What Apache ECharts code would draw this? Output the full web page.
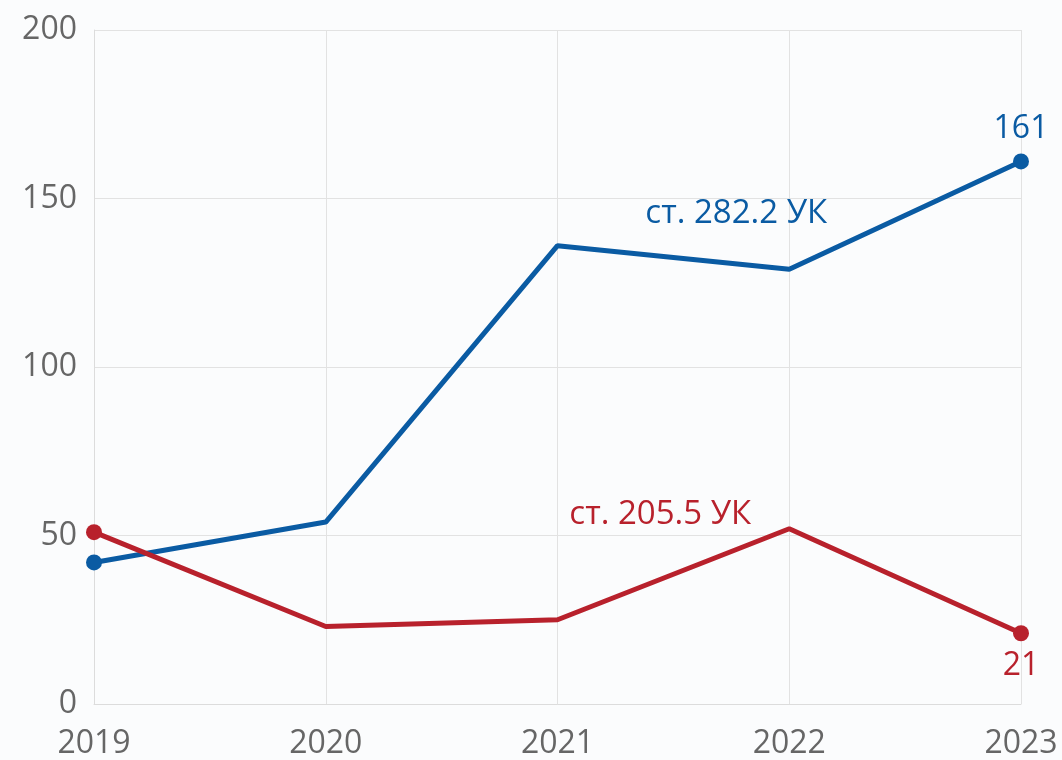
<!DOCTYPE html>
<html><head><meta charset="utf-8">
<script src="https://cdn.jsdelivr.net/npm/echarts@6/dist/echarts.min.js"></script>
<style>html,body{margin:0;padding:0;background:#fbfcfd}#c{width:1062px;height:760px}</style>
</head><body><div id="c"></div>
<script>
var years = ['2019','2020','2021','2022','2023'];
var art282 = [42, 54, 136, 129, 161];
var art205 = [51, 23, 25, 52, 21];
var name282 = 'ст. 282.2 УК';
var name205 = 'ст. 205.5 УК';
var yTicks = [0, 50, 100, 150, 200];

var FONT = '"Open Sans", "Noto Sans", sans-serif';
var BLUE = '#0a5ba3', RED = '#b8212c';

function build(vals, color, nameIdx, nameOffset, endPos, name) {
  var last = vals.length - 1;
  return vals.map(function (v, i) {
    var item = { value: v, symbolSize: (i === 0 || i === last) ? 16 : 0 };
    if (i === last) {
      item.label = { show: true, position: endPos, distance: 9, formatter: '{c}', color: color, fontSize: 32, fontFamily: FONT };
    } else if (i === nameIdx) {
      item.label = { show: true, position: 'top', offset: nameOffset, formatter: name, color: color, fontSize: 33, fontFamily: FONT };
    }
    return item;
  });
}

var chart = echarts.init(document.getElementById('c'));
chart.setOption({
  backgroundColor: '#fbfcfd',
  animation: false,
  grid: { left: 94, right: 41, top: 30, bottom: 55 },
  xAxis: {
    type: 'category', data: years, boundaryGap: false,
    axisLine: { lineStyle: { color: '#dcdcdc', width: 1 } },
    axisTick: { show: false },
    splitLine: { show: true, lineStyle: { color: '#e2e2e2' } },
    axisLabel: { color: '#666', fontSize: 32, fontFamily: FONT, margin: 24 }
  },
  yAxis: {
    type: 'value', min: yTicks[0], max: yTicks[yTicks.length - 1], interval: 50,
    axisLine: { show: true, lineStyle: { color: '#dcdcdc' } },
    axisTick: { show: false },
    splitLine: { lineStyle: { color: '#e2e2e2' } },
    axisLabel: { color: '#666', fontSize: 32, fontFamily: FONT, margin: 17 }
  },
  series: [
    { type: 'line', name: name282, data: build(art282, BLUE, 3, [-53, -34], 'top', name282),
      symbol: 'circle', showSymbol: true, lineStyle: { width: 5, color: BLUE }, itemStyle: { color: BLUE } },
    { type: 'line', name: name205, data: build(art205, RED, 3, [-129, 7], 'bottom', name205),
      symbol: 'circle', showSymbol: true, lineStyle: { width: 5, color: RED }, itemStyle: { color: RED } }
  ]
});
</script></body></html>
